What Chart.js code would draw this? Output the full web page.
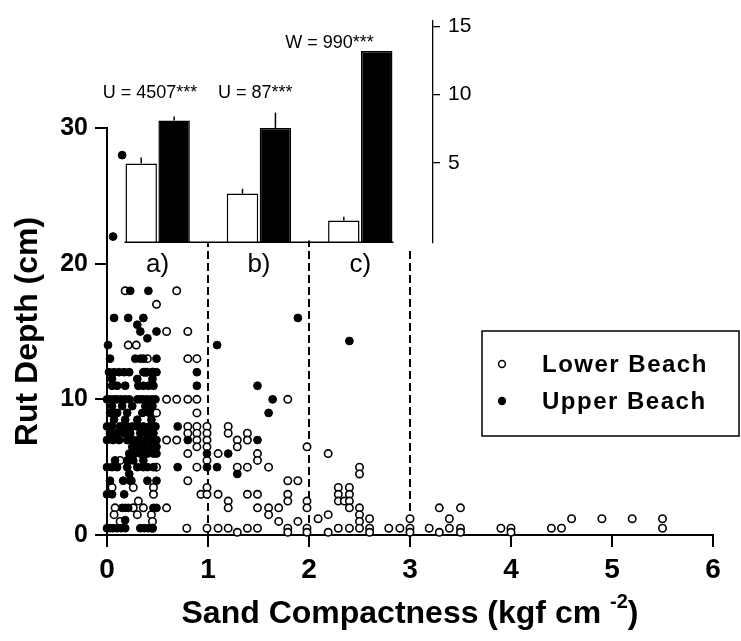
<!DOCTYPE html>
<html>
<head>
<meta charset="utf-8">
<script src="https://cdn.jsdelivr.net/npm/chart.js@4.4.0/dist/chart.umd.min.js"></script>
<style>
  html, body { margin: 0; padding: 0; background: #fff; }
  #wrap { position: relative; width: 741px; height: 641px; }
  canvas { position: absolute; left: 0; top: 0; }
</style>
</head>
<body>
<div id="wrap">
  <canvas id="main-chart" width="741" height="641"></canvas>
  <canvas id="inset-chart" width="741" height="641"></canvas>
</div>
<script>
const FONT = "'Liberation Sans', Arial, sans-serif";
const NARROW = "'Liberation Sans Narrow', 'Liberation Sans', Arial, sans-serif";

//Scatter data: [sand compactness, rut depth]
const lowerBeach = [
  [0.18, 18], [0.69, 18], [0.49, 17], [0.59, 15], [0.80, 15], [0.21, 14], [0.29, 14],
  [0.40, 13], [0.80, 13], [0.89, 13], [0.38, 12], [0.45, 12],
  [0.59, 10], [0.69, 10], [0.80, 10], [0.89, 10], [1.79, 10],
  [0.06, 9], [0.49, 9], [0.89, 9],
  [0.04, 8], [0.16, 8], [0.80, 8], [0.89, 8], [0.99, 8], [1.20, 8],
  [0.80, 7.5], [0.89, 7.5], [0.99, 7.5], [1.20, 7.5], [1.39, 7.5],
  [0.59, 7], [0.69, 7], [0.89, 7], [0.99, 7], [1.29, 7], [1.39, 7],
  [0.89, 6.5], [0.99, 6.5], [1.29, 6.5], [1.98, 6.5],
  [0.80, 6], [1.10, 6], [1.49, 6], [2.19, 6],
  [0.13, 5.5], [0.99, 5.5], [1.49, 5.5],
  [0.49, 5], [0.89, 5], [1.29, 5], [1.39, 5], [1.60, 5], [2.50, 5],
  [2.50, 4.5],
  [0.24, 4], [0.80, 4], [1.79, 4], [1.89, 4],
  [0.05, 3.5], [0.26, 3.5], [0.46, 3.5], [0.99, 3.5], [2.29, 3.5], [2.40, 3.5],
  [0.46, 3], [0.93, 3], [0.99, 3], [1.10, 3], [1.39, 3], [1.49, 3], [1.79, 3], [2.29, 3], [2.40, 3],
  [0.31, 2.5], [1.20, 2.5], [1.79, 2.5], [1.98, 2.5], [2.29, 2.5], [2.35, 2.5], [2.40, 2.5],
  [0.08, 2], [0.26, 2], [0.36, 2], [0.59, 2], [1.20, 2], [1.49, 2], [1.60, 2], [1.70, 2],
  [1.98, 2], [2.40, 2], [2.50, 2], [3.29, 2], [3.50, 2],
  [0.07, 1.5], [0.30, 1.5], [0.44, 1.5], [1.60, 1.5], [2.19, 1.5], [2.50, 1.5],
  [2.09, 1.2], [2.60, 1.2], [3.00, 1.2], [3.39, 1.2], [4.60, 1.2], [4.90, 1.2], [5.20, 1.2], [5.50, 1.2],
  [0.13, 1], [0.45, 1], [1.70, 1], [1.89, 1], [2.50, 1],
  [0.45, 0.5], [0.79, 0.5], [0.99, 0.5], [1.10, 0.5], [1.20, 0.5], [1.39, 0.5], [1.49, 0.5],
  [1.79, 0.5], [1.98, 0.5], [2.29, 0.5], [2.40, 0.5], [2.50, 0.5], [2.60, 0.5], [2.79, 0.5],
  [2.90, 0.5], [3.00, 0.5], [3.19, 0.5], [3.39, 0.5], [3.50, 0.5], [3.90, 0.5], [4.00, 0.5],
  [4.40, 0.5], [4.50, 0.5], [5.50, 0.5],
  [1.29, 0.2], [1.79, 0.2], [1.98, 0.2], [2.19, 0.2], [2.60, 0.2], [3.00, 0.2], [3.29, 0.2],
  [3.50, 0.2], [4.00, 0.2]
];
const upperBeach = [
  [0.15, 28], [0.06, 22],
  [0.23, 18], [0.41, 18],
  [0.07, 16], [0.21, 16], [0.36, 16], [1.89, 16],
  [0.30, 15.5], [0.33, 15], [0.49, 15], [0.40, 14.5], [2.40, 14.3],
  [0.01, 14], [1.09, 14],
  [0.03, 13], [0.28, 13], [0.33, 13], [0.36, 13], [0.49, 13],
  [0.02, 12], [0.07, 12], [0.12, 12], [0.17, 12], [0.22, 12], [0.36, 12], [0.40, 12], [0.45, 12], [0.49, 12], [0.89, 12],
  [0.05, 11.5], [0.30, 11.5], [0.45, 11.5],
  [0.05, 11], [0.10, 11], [0.18, 11], [0.31, 11], [0.36, 11], [0.41, 11], [0.46, 11], [0.89, 11], [1.49, 11],
  [0.00, 10], [0.03, 10], [0.07, 10], [0.10, 10], [0.14, 10], [0.18, 10], [0.22, 10], [0.30, 10],
  [0.33, 10], [0.36, 10], [0.40, 10], [0.44, 10], [0.48, 10], [1.64, 10],
  [0.05, 9.5], [0.15, 9.5], [0.25, 9.5], [0.38, 9.5], [0.45, 9.5],
  [0.03, 9], [0.10, 9], [0.20, 9], [0.35, 9], [0.42, 9], [1.60, 9],
  [0.07, 8.5], [0.18, 8.5], [0.30, 8.5], [0.44, 8.5],
  [0.00, 8], [0.05, 8], [0.13, 8], [0.20, 8], [0.25, 8], [0.30, 8], [0.36, 8], [0.42, 8], [0.48, 8], [0.70, 8],
  [0.03, 7.5], [0.10, 7.5], [0.17, 7.5], [0.23, 7.5], [0.33, 7.5], [0.40, 7.5], [0.46, 7.5],
  [0.00, 7], [0.06, 7], [0.12, 7], [0.20, 7], [0.26, 7], [0.31, 7], [0.38, 7], [0.44, 7], [0.49, 7], [0.80, 7], [1.49, 7],
  [0.25, 6.5], [0.30, 6.5], [0.36, 6.5], [0.43, 6.5], [0.49, 6.5],
  [0.22, 6], [0.27, 6], [0.33, 6], [0.40, 6], [0.46, 6], [0.49, 6], [0.99, 6], [1.20, 6],
  [0.08, 5.5], [0.20, 5.5], [0.26, 5.5], [0.36, 5.5],
  [0.00, 5], [0.05, 5], [0.10, 5], [0.20, 5], [0.30, 5], [0.36, 5], [0.40, 5], [0.46, 5], [0.70, 5], [0.99, 5], [1.09, 5],
  [0.22, 4.5], [1.29, 4.5],
  [0.03, 4], [0.16, 4], [0.23, 4], [0.40, 4], [0.49, 4],
  [0.00, 3], [0.05, 3], [0.17, 3],
  [0.15, 2], [0.18, 2], [0.21, 2], [0.46, 2], [0.49, 2],
  [0.18, 1.1],
  [0.00, 0.5], [0.03, 0.5], [0.06, 0.5], [0.10, 0.5], [0.14, 0.5], [0.18, 0.5],
  [0.33, 0.5], [0.37, 0.5], [0.41, 0.5], [0.45, 0.5]
];

//Dashed zone dividers (x position, top of line in cm)
const dividerX = [1, 2, 3];
const dividerTop = [21.5, 21.7, 21.1];

//Inset bar data per compactness zone
const zoneLabels = ["a)", "b)", "c)"];
const zoneX = [0.5, 1.5, 2.5];
const lowerMean = [4.95, 2.75, 0.77];
const lowerErr = [0.45, 0.35, 0.28];
const upperMean = [8.1, 7.56, 13.19];
const upperErr = [0.3, 1.12, 0];
const testLabels = ["U = 4507***", "U = 87***", "W = 990***"];

//Inset axis floor (bars start slightly below zero)
const insetFloor = -0.82;

Chart.defaults.color = "#000";
Chart.defaults.font.family = FONT;

const toPoints = (arr) => arr.map(([x, y]) => ({ x, y }));

//Legend box drawn inside the plot
const legendBox = {
  id: "legendBox",
  afterDraw(chart) {
    const ctx = chart.ctx;
    ctx.save();
    ctx.strokeStyle = "#000";
    ctx.lineWidth = 1.5;
    ctx.strokeRect(482, 331, 257, 105);
    [0, 1].forEach((d, i) => {
      const ds = chart.data.datasets[d];
      const y = 364 + i * 37;
      ctx.beginPath();
      ctx.arc(502, y, 3.4, 0, Math.PI * 2);
      ctx.fillStyle = ds.pointBackgroundColor;
      ctx.fill();
      ctx.lineWidth = 1.5;
      ctx.strokeStyle = "#000";
      ctx.stroke();
      ctx.font = "bold 24px " + FONT;
      ctx.letterSpacing = "1.5px";
      ctx.fillStyle = "#000";
      ctx.textAlign = "left";
      ctx.textBaseline = "middle";
      ctx.fillText(ds.label, 542, y + 1);
    });
    ctx.restore();
  },
};

//X title with superscript
const xTitle = {
  id: "xTitle",
  afterDraw(chart) {
    const { ctx, chartArea } = chart;
    const head = "Sand Compactness (kgf cm";
    const sup = "-2";
    const tail = ")";
    const big = "bold 32px " + FONT;
    const small = "bold 20px " + FONT;
    ctx.save();
    ctx.fillStyle = "#000";
    ctx.textAlign = "left";
    ctx.textBaseline = "alphabetic";
    ctx.font = big;
    const w1 = ctx.measureText(head + " ").width;
    const w3 = ctx.measureText(tail).width;
    ctx.font = small;
    const w2 = ctx.measureText(sup).width;
    let x = (chartArea.left + chartArea.right) / 2 - (w1 + w2 + w3) / 2;
    const base = 623;
    ctx.font = big;
    ctx.fillText(head, x, base);
    x += w1;
    ctx.font = small;
    ctx.fillText(sup, x, base - 15);
    x += w2;
    ctx.font = big;
    ctx.fillText(tail, x, base);
    ctx.restore();
  },
};

//Main scatter chart
new Chart(document.getElementById("main-chart"), {
  type: "scatter",
  data: {
    datasets: [
      {
        label: "Lower Beach",
        data: toPoints(lowerBeach),
        pointRadius: 3.7,
        pointBackgroundColor: "#fff",
        pointBorderColor: "#000",
        pointBorderWidth: 1.6,
        clip: false,
        order: 1,
      },
      {
        label: "Upper Beach",
        data: toPoints(upperBeach),
        pointRadius: 3.9,
        pointBackgroundColor: "#000",
        pointBorderColor: "#000",
        pointBorderWidth: 1,
        clip: false,
        order: 0,
      },
      ...dividerX.map((x, i) => ({
        label: "",
        data: [{ x, y: 0 }, { x, y: dividerTop[i] }],
        showLine: true,
        borderColor: "#000",
        borderWidth: 2,
        borderDash: [8, 4],
        pointRadius: 0,
        order: 2,
      })),
    ],
  },
  options: {
    responsive: false,
    animation: false,
    events: [],
    layout: { padding: { left: 0, right: 28, top: 128, bottom: 0 } },
    plugins: { legend: { display: false }, tooltip: { enabled: false } },
    scales: {
      x: {
        type: "linear",
        min: 0,
        max: 6,
        afterFit: (axis) => { axis.height = 106; },
        ticks: { stepSize: 1, padding: 6, font: { family: NARROW, size: 28, weight: "bold" } },
        grid: { drawOnChartArea: false, color: "#000", lineWidth: 2, tickLength: 12 },
        border: { color: "#000", width: 2 },
      },
      y: {
        min: 0,
        max: 30,
        afterFit: (axis) => { axis.width = 107; },
        ticks: { stepSize: 10, padding: 7, font: { size: 25, weight: "bold" } },
        grid: { drawOnChartArea: false, color: "#000", lineWidth: 2, tickLength: 12 },
        border: { color: "#000", width: 2 },
        title: {
          display: true,
          text: "Rut Depth (cm)",
          font: { size: 32, weight: "bold" },
          padding: { top: 9, bottom: 0 },
        },
      },
    },
  },
  plugins: [legendBox, xTitle],
});

//Error bars and base line of the inset
const errorBars = {
  id: "errorBars",
  afterDatasetsDraw(chart) {
    const { ctx } = chart;
    const yScale = chart.scales.y;
    ctx.save();
    ctx.strokeStyle = "#000";
    ctx.lineWidth = 1.5;
    chart.data.datasets.forEach((ds, d) => {
      chart.getDatasetMeta(d).data.forEach((bar, i) => {
        if (!ds.err[i]) return;
        const top = yScale.getPixelForValue(ds.data[i].y + ds.err[i]);
        ctx.beginPath();
        ctx.moveTo(bar.x, bar.y);
        ctx.lineTo(bar.x, top);
        ctx.stroke();
      });
    });
    const first = chart.getDatasetMeta(0).data[0];
    const lastBars = chart.getDatasetMeta(1).data;
    const last = lastBars[lastBars.length - 1];
    ctx.beginPath();
    ctx.moveTo(first.x - first.width / 2 - 1, first.base);
    ctx.lineTo(last.x + last.width / 2 + 1, last.base);
    ctx.stroke();
    ctx.restore();
  },
};

//Test statistics above each zone
const insetNotes = {
  id: "insetNotes",
  afterDraw(chart) {
    const { ctx } = chart;
    const xScale = chart.scales.x;
    const spots = [[-55, 93], [-41, 93], [-75, 43]];
    ctx.save();
    ctx.font = "18px " + FONT;
    ctx.fillStyle = "#000";
    ctx.textAlign = "left";
    ctx.textBaseline = "middle";
    testLabels.forEach((t, i) => {
      ctx.fillText(t, xScale.getPixelForValue(zoneX[i]) + spots[i][0], spots[i][1]);
    });
    ctx.restore();
  },
};

//Inset bar chart
new Chart(document.getElementById("inset-chart"), {
  type: "bar",
  data: {
    datasets: [
      {
        label: "Lower Beach",
        data: zoneX.map((x, i) => ({ x, y: lowerMean[i] })),
        err: lowerErr,
        backgroundColor: "#fff",
        borderColor: "#000",
        borderWidth: 1.5,
        base: insetFloor,
        categoryPercentage: 0.65,
        barPercentage: 0.955,
      },
      {
        label: "Upper Beach",
        data: zoneX.map((x, i) => ({ x, y: upperMean[i] })),
        err: upperErr,
        backgroundColor: "#000",
        borderColor: "#000",
        borderWidth: 1.5,
        base: insetFloor,
        categoryPercentage: 0.65,
        barPercentage: 0.955,
      },
    ],
  },
  options: {
    responsive: false,
    animation: false,
    events: [],
    layout: { padding: { left: 107, right: 248, top: 12.7, bottom: 358.7 } },
    plugins: { legend: { display: false }, tooltip: { enabled: false } },
    scales: {
      x: {
        type: "linear",
        offset: false,
        min: 0,
        max: 3.218,
        afterBuildTicks: (axis) => { axis.ticks = zoneX.map((v) => ({ value: v })); },
        afterFit: (axis) => { axis.height = 40; },
        grid: { display: false, drawTicks: false, offset: false },
        border: { display: false },
        ticks: {
          callback: (v, i) => zoneLabels[i],
          autoSkip: false,
          maxRotation: 0,
          padding: 7,
          font: { size: 26 },
        },
      },
      y: {
        position: "right",
        min: insetFloor,
        max: 15.42,
        afterBuildTicks: (axis) => { axis.ticks = [5, 10, 15].map((v) => ({ value: v })); },
        afterFit: (axis) => { axis.width = 60; },
        grid: { drawOnChartArea: false, color: "#000", lineWidth: 1.3, tickLength: 7 },
        border: { color: "#000", width: 1.3 },
        ticks: { padding: 8, font: { size: 21 } },
      },
    },
  },
  plugins: [errorBars, insetNotes],
});
</script>
</body>
</html>
